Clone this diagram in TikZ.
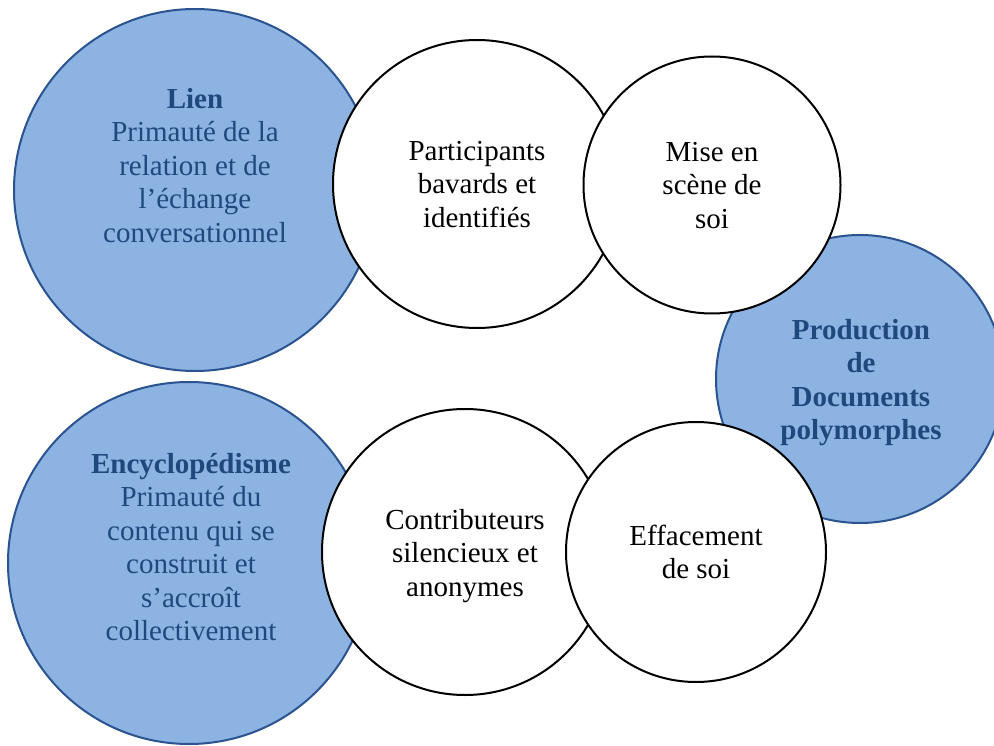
\documentclass[tikz,border=0pt]{standalone}
\usepackage{fontspec}
\setmainfont{Liberation Serif}
\definecolor{bfill}{HTML}{8DB3E2}
\definecolor{bline}{HTML}{2A5390}
\definecolor{btext}{HTML}{1F497D}
\begin{document}
\begin{tikzpicture}[x=1pt,y=-1pt,
  bluecirc/.style={circle,draw=bline,fill=bfill,line width=2pt,inner sep=0pt},
  whitecirc/.style={circle,draw=black,fill=white,line width=2pt,inner sep=0pt},
  txt/.style={align=center,inner sep=0pt,anchor=north,font=\fontsize{29}{33.5}\selectfont},
  btxt/.style={txt,text=btext}]
\useasboundingbox (0,0) rectangle (994,746);
\clip (0,0) rectangle (994,746);
% circles
\node[bluecirc,minimum size=362pt] (lien) at (195,190) {};
\node[bluecirc,minimum size=288pt] (prod) at (860,379) {};
\node[bluecirc,minimum size=362pt] (ency) at (189,563) {};
\node[whitecirc,minimum size=288pt] (part) at (477,184) {};
\node[whitecirc,minimum size=257pt] (mise) at (712,185) {};
\node[whitecirc,minimum size=286pt] (contrib) at (465,552) {};
\node[whitecirc,minimum size=260pt] (eff) at (696,552) {};
% texts
\node[btxt] (tlien) at (195,84.5) {\strut\textbf{Lien}\\Primauté de la\\relation et de\\l’échange\\conversationnel};
\node[txt] (tpart) at (477,136.5) {\strut Participants\\bavards et\\identifiés};
\node[txt] (tmise) at (712,137.5) {\strut Mise en\\scène de\\soi};
\node[btxt,font=\fontsize{29}{33.5}\selectfont\bfseries] (tprod) at (861,315.5) {\strut Production\\de\\Documents\\polymorphes};
\node[btxt] (tency) at (191,449.5) {\strut\textbf{Encyclopédisme}\\Primauté du\\contenu qui se\\construit et\\s’accroît\\collectivement};
\node[txt] (tcontrib) at (465,505.5) {\strut Contributeurs\\silencieux et\\anonymes};
\node[txt] (teff) at (696,521.5) {\strut Effacement\\de soi};
\end{tikzpicture}
\end{document}
